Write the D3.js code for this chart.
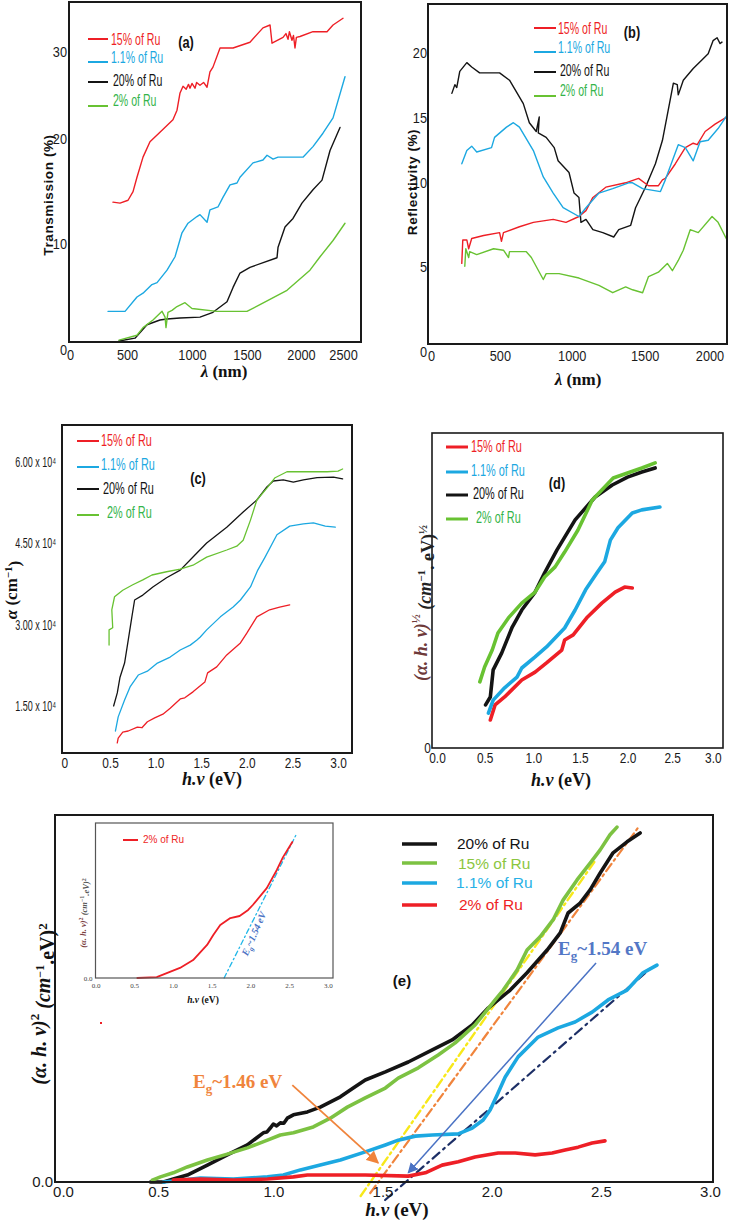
<!DOCTYPE html>
<html lang="en">
<head>
<meta charset="UTF-8"/>
<title>Optical properties of Ru doped films</title>
<script src="https://d3js.org/d3.v7.min.js"></script>
<style>
  body { margin: 0; background: #fff; }
  svg { display: block; }
  .narrow { font-family: "Liberation Sans", Arial, sans-serif; }
  .sans { font-family: "Liberation Sans", Arial, sans-serif; }
  .math { font-family: "Liberation Serif", "DejaVu Serif", serif; font-weight: bold; }
</style>
</head>
<body>
<svg id="fig" width="730" height="1221"></svg>
<script>

// ---------- data ----------
const legendNames = ['15% of Ru', '1.1% of Ru', '20% of Ru', '2% of Ru'];

// (a) transmission (%) vs wavelength (nm)
const transRu15 = [[379,14.6],[440,14.5],[509,14.8],[552,15.7],[586,17.2],[638,19.3],[698,20.9],[784,21.9],[896,23.2],[931,24.2],[957,26.0],[983,26.7],[1010,26.4],[1030,26.9],[1043,26.5],[1060,27.0],[1086,26.5],[1100,27.1],[1129,26.8],[1160,27.1],[1190,26.6],[1215,28.2],[1241,28.7],[1302,30.7],[1414,30.7],[1560,31.3],[1672,32.8],[1733,33.1],[1750,31.2],[1845,31.8],[1870,32.2],[1888,31.6],[1900,32.4],[1922,31.5],[1935,32.0],[1948,30.7],[1960,31.8],[1991,31.9],[2103,32.4],[2224,32.4],[2276,33.1],[2362,33.8]];
const transRu11 = [[336,3.2],[483,3.2],[586,4.7],[638,5.1],[715,6.0],[759,6.2],[845,7.5],[914,8.9],[974,11.4],[1026,12.4],[1103,13.1],[1129,13.3],[1190,12.5],[1215,13.8],[1284,14.1],[1327,15.1],[1388,16.4],[1448,16.6],[1474,17.2],[1586,18.7],[1672,19.0],[1707,19.5],[1759,19.1],[1802,19.3],[2017,19.3],[2103,20.4],[2189,21.8],[2276,23.4],[2379,27.7]];
const transRu20 = [[431,0.1],[569,0.4],[672,1.8],[784,2.3],[845,2.4],[957,2.5],[1129,2.6],[1241,3.1],[1362,4.2],[1414,5.7],[1474,7.2],[1560,7.8],[1793,8.8],[1802,9.9],[1862,12.0],[1931,12.9],[2008,14.5],[2103,15.9],[2181,16.9],[2250,20.0],[2336,22.4]];
const transRu2 = [[431,0.2],[586,0.7],[638,1.5],[724,2.3],[802,3.2],[828,2.6],[836,1.5],[853,3.1],[888,3.3],[931,3.7],[1000,4.1],[1060,3.5],[1276,3.2],[1534,3.2],[1646,3.9],[1879,5.4],[2077,7.5],[2164,8.9],[2276,10.6],[2379,12.4]];
const ticksA_x = [0, 500, 1000, 1500, 2000, 2500];
const ticksA_y = [0, 10, 20, 30];

// (b) reflectivity (%) vs wavelength (nm)
const reflRu15 = [[235,5.5],[242,7.1],[270,7.1],[283,6.5],[304,7.2],[387,7.4],[498,7.6],[511,7.0],[525,7.6],[636,8.0],[733,8.3],[871,8.5],[960,8.3],[1050,8.7],[1099,9.1],[1147,10.0],[1237,10.7],[1375,11.0],[1465,11.3],[1534,10.8],[1603,10.8],[1631,11.2],[1651,11.3],[1721,12.3],[1790,13.4],[1845,13.7],[1873,13.6],[1928,14.5],[1997,15.0],[2080,15.5]];
const reflRu11 = [[235,12.3],[270,13.2],[304,13.5],[339,13.1],[442,13.4],[463,14.1],[546,14.8],[594,15.1],[636,14.8],[733,13.2],[802,11.4],[871,10.3],[940,9.3],[1050,8.7],[1099,9.3],[1189,10.3],[1285,10.6],[1396,11.0],[1423,11.0],[1493,10.6],[1617,10.4],[1651,11.2],[1741,13.6],[1790,13.4],[1845,12.5],[1893,13.8],[1949,13.9],[2018,14.7],[2080,15.6]];
const reflRu20 = [[166,17.1],[187,17.7],[200,17.5],[221,18.6],[270,19.2],[304,18.9],[359,18.5],[498,18.5],[567,18.0],[663,16.4],[705,15.1],[753,14.5],[774,15.5],[767,14.4],[822,14.1],[878,13.4],[905,12.5],[981,11.7],[1016,10.3],[1050,10.0],[1064,8.3],[1099,8.5],[1147,7.8],[1216,7.6],[1292,7.3],[1327,7.8],[1410,8.1],[1444,9.3],[1513,10.7],[1582,12.3],[1631,13.9],[1707,17.8],[1734,17.7],[1741,17.0],[1776,18.0],[1845,18.8],[1907,19.4],[1949,19.8],[1983,20.7],[2011,20.9],[2032,20.5],[2045,20.6]];
const reflRu2 = [[256,5.3],[263,6.5],[283,5.9],[290,6.3],[339,6.1],[456,6.5],[525,6.4],[560,5.9],[567,6.3],[684,6.3],[719,5.9],[802,4.4],[822,4.8],[912,4.8],[1050,4.5],[1189,4.0],[1285,3.5],[1375,3.9],[1423,3.7],[1493,3.5],[1534,4.6],[1603,4.9],[1665,5.5],[1700,5.0],[1741,5.7],[1776,6.4],[1824,7.8],[1880,7.6],[1976,8.7],[2018,8.3],[2080,7.1]];
const ticksB_x = [0, 500, 1000, 1500, 2000];
const ticksB_y = [0, 5, 10, 15, 20];

// (c) absorption coefficient (x 10^4 cm^-1) vs photon energy (eV)
const alphaRu15 = [[0.58,0.82],[0.59,0.91],[0.64,1.02],[0.70,1.04],[0.80,1.11],[0.85,1.10],[0.91,1.21],[0.99,1.28],[1.08,1.35],[1.16,1.46],[1.27,1.63],[1.32,1.65],[1.41,1.76],[1.54,1.94],[1.57,2.11],[1.67,2.22],[1.78,2.44],[1.93,2.66],[2.00,2.84],[2.11,3.14],[2.25,3.27],[2.36,3.32],[2.47,3.36]];
const alphaRu11 = [[0.56,1.04],[0.59,1.30],[0.66,1.61],[0.72,1.85],[0.81,2.07],[0.91,2.14],[1.02,2.29],[1.16,2.40],[1.27,2.53],[1.38,2.62],[1.45,2.71],[1.49,2.77],[1.56,2.90],[1.71,3.14],[1.85,3.32],[1.93,3.45],[2.04,3.69],[2.12,4.00],[2.20,4.24],[2.33,4.65],[2.47,4.81],[2.62,4.85],[2.73,4.87],[2.86,4.81],[2.97,4.79]];
const alphaRu20 = [[0.54,1.50],[0.58,1.74],[0.61,2.03],[0.66,2.29],[0.70,2.71],[0.74,3.14],[0.77,3.45],[0.86,3.54],[0.97,3.69],[1.12,3.86],[1.27,4.00],[1.41,4.24],[1.56,4.50],[1.78,4.79],[1.96,5.07],[2.11,5.29],[2.22,5.53],[2.29,5.64],[2.40,5.66],[2.51,5.62],[2.62,5.66],[2.77,5.70],[2.95,5.71],[3.05,5.68]];
const alphaRu2 = [[0.49,2.62],[0.49,2.90],[0.53,2.94],[0.52,3.27],[0.55,3.51],[0.64,3.63],[0.75,3.73],[0.86,3.82],[0.96,3.91],[1.12,3.97],[1.27,4.02],[1.41,4.09],[1.56,4.24],[1.78,4.37],[1.89,4.44],[1.96,4.55],[2.04,4.92],[2.11,5.29],[2.22,5.51],[2.31,5.70],[2.44,5.81],[2.66,5.81],[2.88,5.81],[3.00,5.82],[3.05,5.86]];
const ticksC_x = [0, 0.5, 1.0, 1.5, 2.0, 2.5, 3.0];
const ticksC_y = [1.5, 3.0, 4.5, 6.0];

// (d) (alpha h nu)^1/2, arbitrary units
const sqrtRu15 = [[0.57,8.9],[0.62,13.7],[0.72,16.2],[0.90,21.6],[1.04,24.1],[1.16,27.0],[1.32,31.1],[1.35,34.3],[1.44,35.9],[1.59,41.6],[1.74,46.0],[1.88,49.5],[1.98,51.1],[2.06,50.8]];
const sqrtRu11 = [[0.55,11.1],[0.60,15.2],[0.72,19.1],[0.85,22.5],[0.90,25.4],[1.04,28.9],[1.16,32.1],[1.35,38.1],[1.46,43.8],[1.57,50.2],[1.69,55.6],[1.77,59.1],[1.83,66.0],[1.91,69.9],[2.06,74.6],[2.16,75.6],[2.35,76.5]];
const sqrtRu20 = [[0.52,13.7],[0.57,16.2],[0.60,24.8],[0.69,30.2],[0.80,38.4],[0.90,43.8],[1.04,49.5],[1.14,55.6],[1.27,62.9],[1.46,72.4],[1.67,79.7],[1.85,83.5],[2.01,86.0],[2.16,87.6],[2.30,88.9]];
const sqrtRu2 = [[0.46,21.0],[0.51,25.7],[0.59,31.1],[0.65,36.5],[0.76,41.3],[0.90,46.0],[1.04,49.5],[1.14,54.3],[1.25,57.5],[1.35,62.2],[1.49,69.2],[1.64,78.7],[1.74,81.9],[1.86,85.7],[2.01,87.3],[2.16,88.9],[2.30,90.5]];
const ticksD_x = [0, 0.5, 1.0, 1.5, 2.0, 2.5, 3.0];

// (e) (alpha h nu)^2, arbitrary units
const taucRu20 = [[0.437,0],[0.497,0],[0.542,0.8],[0.606,1.9],[0.698,4.6],[0.789,7.4],[0.881,10.1],[0.954,13.4],[0.970,13.6],[0.986,14.7],[1.000,15.8],[1.015,15.3],[1.032,16.1],[1.048,16.0],[1.064,17.4],[1.092,18.3],[1.156,19.1],[1.215,20.4],[1.307,23.2],[1.366,25.6],[1.421,27.8],[1.513,30.0],[1.618,32.7],[1.728,36.0],[1.819,38.7],[1.911,42.8],[1.984,47.4],[2.085,52.3],[2.162,57.0],[2.254,63.2],[2.314,67.9],[2.350,73.3],[2.405,76.0],[2.451,79.6],[2.497,84.2],[2.556,89.7],[2.620,92.7],[2.680,95.1]];
const taucRu15 = [[0.446,0.5],[0.483,1.4],[0.542,2.5],[0.606,4.1],[0.698,6.0],[0.789,7.6],[0.881,9.3],[0.973,11.4],[1.032,12.8],[1.092,13.4],[1.183,15.0],[1.261,17.4],[1.339,20.4],[1.421,22.9],[1.513,25.6],[1.572,28.3],[1.664,31.1],[1.755,34.6],[1.833,37.9],[1.924,42.8],[2.016,49.6],[2.053,52.3],[2.117,57.8],[2.162,63.2],[2.222,66.8],[2.281,71.4],[2.327,76.8],[2.391,82.3],[2.451,86.9],[2.497,90.5],[2.542,94.6],[2.574,96.7]];
const taucRu11 = [[0.497,0],[0.574,0.5],[0.666,1.1],[0.817,0.8],[0.973,1.4],[1.046,1.9],[1.124,3.3],[1.215,4.6],[1.307,6.0],[1.421,8.2],[1.513,10.1],[1.572,11.4],[1.650,12.5],[1.728,12.8],[1.847,13.1],[1.911,14.7],[1.961,16.9],[1.993,19.6],[2.025,23.7],[2.062,28.6],[2.121,34.1],[2.213,39.5],[2.304,42.0],[2.382,43.6],[2.460,46.3],[2.533,49.6],[2.620,52.3],[2.693,57.0],[2.757,59.1]];
const taucRu2 = [[0.542,0.5],[0.666,0.8],[0.817,0.5],[0.973,0.8],[1.092,1.4],[1.156,1.9],[1.275,1.9],[1.421,1.9],[1.618,1.6],[1.696,2.5],[1.773,4.6],[1.847,5.5],[1.924,6.8],[2.030,7.9],[2.108,7.9],[2.199,7.4],[2.277,7.9],[2.336,8.7],[2.396,9.5],[2.460,10.6],[2.519,11.2]];
const fitRu15 = [[1.40,-3.8],[2.47,87.2]];
const fitRu20 = [[1.444,-3.0],[2.67,96.5]];
const fitRu11 = [[1.512,-4.9],[2.735,58.6]];
const arrowEg154 = [[2.478,59.7],[1.618,2.5]];
const arrowEg146 = [[1.087,26.4],[1.480,5.2]];
const insetRu2 = [[0.54,0],[0.79,0.6],[0.96,3.9],[1.09,6.5],[1.26,11.6],[1.44,21.3],[1.52,27.7],[1.61,34.2],[1.74,38.7],[1.86,40.0],[1.97,43.9],[2.03,47.1],[2.21,58.0],[2.34,69.7],[2.42,78.0],[2.54,87.7]];
const insetFit = [[1.66,0],[2.60,93.5]];
const ticksE_x = [0, 0.5, 1.0, 1.5, 2.0, 2.5, 3.0];

// ---------- drawing ----------
const RED = '#ee1f26', BLUE = '#1ca8e1', BLACK = '#141414', GREEN = '#68c232';
const GREEN_E = '#7cc242';
const svg = d3.select('#fig');

function fmt1(d) { return d.toFixed(1); }

// the reference uses a condensed face; squeeze the glyphs horizontally
function squeeze(sel, k) {
  sel.each(function () {
    const w = this.getComputedTextLength();
    d3.select(this).attr('textLength', w * k).attr('lengthAdjust', 'spacingAndGlyphs');
  });
}

function panel(p) {
  const g = svg.append('g');
  const x = d3.scaleLinear().domain(p.xDomain).range([p.left, p.right]);
  const y = d3.scaleLinear().domain(p.yDomain).range([p.bottom, p.top]);

  const line = d3.line().x(d => x(d[0])).y(d => y(d[1]));
  p.series.forEach(s => {
    g.append('path')
      .datum(s.data)
      .attr('d', line)
      .attr('fill', 'none')
      .attr('stroke', s.color)
      .attr('stroke-width', s.width)
      .attr('stroke-linejoin', 'round')
      .attr('stroke-linecap', 'round')
      .attr('stroke-dasharray', s.dash || null);
  });

  g.append('rect')
    .attr('x', p.left).attr('y', p.top)
    .attr('width', p.right - p.left).attr('height', p.bottom - p.top)
    .attr('fill', 'none').attr('stroke', p.frameColor || '#1a1a1a').attr('stroke-width', p.frame);

  const xa = g.append('g')
    .attr('transform', `translate(0,${p.bottom})`)
    .call(d3.axisBottom(x).tickValues(p.xTicks).tickFormat(p.xFormat).tickSize(0).tickPadding(p.xPad));
  xa.select('.domain').remove();
  xa.attr('font-family', null).attr('font-size', null).attr('class', p.tickClass);
  xa.selectAll('text').attr('font-size', p.tickFont).attr('fill', '#1a1a1a')
    .attr('x', (d, i) => p.xShift ? p.xShift[i] : 0);
  if (p.squeeze) squeeze(xa.selectAll('text'), p.squeeze);

  let ya = null;
  if (p.yTicks) {
    ya = g.append('g')
      .attr('transform', `translate(${p.left},0)`)
      .call(d3.axisLeft(y).tickValues(p.yTicks).tickFormat(p.yFormat).tickSize(0).tickPadding(p.yPad));
    ya.select('.domain').remove();
    ya.attr('font-family', null).attr('font-size', null).attr('class', p.tickClass);
    ya.selectAll('text').attr('font-size', p.yTickFont || p.tickFont).attr('fill', '#1a1a1a')
      .attr('y', (d, i) => p.yShift ? p.yShift[i] : 0);
    if (p.squeeze) squeeze(ya.selectAll('text'), p.ySqueeze || p.squeeze);
  }
  return { g, x, y, ya };
}

function legend(items, o) {
  const g = svg.append('g').attr('class', o.cls);
  items.forEach(it => {
    g.append('line')
      .attr('x1', o.x1).attr('x2', o.x2).attr('y1', it.ly).attr('y2', it.ly)
      .attr('stroke', it.color).attr('stroke-width', o.lw);
    const t = g.append('text')
      .attr('x', it.tx).attr('y', it.ty)
      .attr('dominant-baseline', 'central')
      .attr('font-size', o.size)
      .attr('fill', it.textColor || it.color)
      .text(it.name);
    if (o.squeeze) squeeze(t, o.squeeze);
  });
}

function tag(txt, x, y, size) {
  const t = svg.append('text').attr('class', 'narrow')
    .attr('x', x).attr('y', y).attr('text-anchor', 'middle')
    .attr('font-size', size).attr('font-weight', 'bold').attr('fill', '#111')
    .text(txt);
  squeeze(t, 0.8);
}

function lambdaLabel(cx, y) {
  const t = svg.append('text').attr('class', 'math').attr('x', cx).attr('y', y)
    .attr('text-anchor', 'middle').attr('font-size', 17).attr('fill', '#111');
  t.append('tspan').attr('font-style', 'italic').text('λ');
  t.append('tspan').text(' (nm)');
}

function hvLabel(cx, y, size) {
  const t = svg.append('text').attr('class', 'math').attr('x', cx).attr('y', y)
    .attr('text-anchor', 'middle').attr('font-size', size).attr('fill', '#111');
  t.append('tspan').attr('font-style', 'italic').text('h.ν');
  t.append('tspan').text(' (eV)');
}

// ----- (a) -----
panel({
  left: 69, right: 361, top: 2, bottom: 342,
  xDomain: [0, 2517], yDomain: [0, 35.5],
  xTicks: ticksA_x, xFormat: d => d, xPad: 7, xShift: [1, 0, 7, 4, 0, -16],
  yTicks: ticksA_y, yFormat: d => d, yPad: 2, yShift: [8, -3, -12, -3],
  tickClass: 'narrow', tickFont: 15, squeeze: 0.85, frame: 2,
  series: [
    { data: transRu15, color: RED, width: 1.4 },
    { data: transRu11, color: BLUE, width: 1.4 },
    { data: transRu20, color: BLACK, width: 1.4 },
    { data: transRu2, color: GREEN, width: 1.4 }
  ]
});
legend([
  { name: legendNames[0], color: RED, ly: 39, ty: 39, tx: 111 },
  { name: legendNames[1], color: BLUE, ly: 62, ty: 57, tx: 111 },
  { name: legendNames[2], color: BLACK, ly: 82, ty: 80, tx: 113 },
  { name: legendNames[3], color: GREEN, textColor: '#34b44a', ly: 106, ty: 100, tx: 113 }
], { cls: 'narrow', x1: 88, x2: 108, lw: 2, size: 16, squeeze: 0.66 });
tag('(a)', 186, 48, 16);
svg.append('text').attr('class', 'sans')
  .attr('transform', 'translate(53,195) rotate(-90)')
  .attr('text-anchor', 'middle').attr('font-size', 13.5).attr('font-weight', 'bold')
  .attr('letter-spacing', 0.6).attr('fill', '#111')
  .text('Transmission (%)');
lambdaLabel(224, 377);

// ----- (b) -----
panel({
  left: 428, right: 727, top: 4, bottom: 344,
  xDomain: [0, 2080], yDomain: [0, 23.2],
  xTicks: ticksB_x, xFormat: d => d, xPad: 6, xShift: [3, 0, 0, 1, -6],
  yTicks: ticksB_y, yFormat: d => d, yPad: 1, yShift: [8, -4, -15, -6, 2],
  tickClass: 'narrow', tickFont: 15, squeeze: 0.85, frame: 2,
  series: [
    { data: reflRu20, color: BLACK, width: 1.4 },
    { data: reflRu15, color: RED, width: 1.4 },
    { data: reflRu11, color: BLUE, width: 1.4 },
    { data: reflRu2, color: GREEN, width: 1.4 }
  ]
});
legend([
  { name: legendNames[0], color: RED, ly: 28, ty: 28, tx: 558 },
  { name: legendNames[1], color: BLUE, ly: 52, ty: 47, tx: 558 },
  { name: legendNames[2], color: BLACK, ly: 72, ty: 70, tx: 560 },
  { name: legendNames[3], color: GREEN, textColor: '#34b44a', ly: 96, ty: 90, tx: 560 }
], { cls: 'narrow', x1: 534, x2: 556, lw: 2, size: 16, squeeze: 0.66 });
tag('(b)', 632, 38, 16);
svg.append('text').attr('class', 'sans')
  .attr('transform', 'translate(417,182) rotate(-90)')
  .attr('text-anchor', 'middle').attr('font-size', 13.5).attr('font-weight', 'bold')
  .attr('letter-spacing', 0.6).attr('fill', '#111')
  .text('Reflectivity (%)');
lambdaLabel(578, 385);

// ----- (c) -----
panel({
  left: 62, right: 352, top: 425, bottom: 753,
  xDomain: [-0.026, 3.153], yDomain: [0.635, 6.67],
  xTicks: ticksC_x, xFormat: d => d === 0 ? '0' : fmt1(d), xPad: 5,
  yTicks: ticksC_y, yFormat: d => d.toFixed(2) + ' x 10\u2074', yPad: 6,
  tickClass: 'narrow', tickFont: 14, yTickFont: 14.5, squeeze: 0.85, ySqueeze: 0.62, frame: 2,
  series: [
    { data: alphaRu15, color: RED, width: 1.3 },
    { data: alphaRu11, color: BLUE, width: 1.3 },
    { data: alphaRu20, color: BLACK, width: 1.3 },
    { data: alphaRu2, color: GREEN, width: 1.3 }
  ]
});
legend([
  { name: legendNames[0], color: RED, ly: 441, ty: 440, tx: 101 },
  { name: legendNames[1], color: BLUE, ly: 467, ty: 464, tx: 101 },
  { name: legendNames[2], color: BLACK, ly: 489, ty: 488, tx: 103 },
  { name: legendNames[3], color: GREEN, textColor: '#34b44a', ly: 515, ty: 512, tx: 107 }
], { cls: 'narrow', x1: 77, x2: 99, lw: 2, size: 16, squeeze: 0.68 });
tag('(c)', 198, 484, 16);
{
  const t = svg.append('text').attr('class', 'math')
    .attr('transform', 'translate(17,590) rotate(-90)')
    .attr('text-anchor', 'middle').attr('font-size', 17).attr('fill', '#111');
  t.append('tspan').attr('font-style', 'italic').text('α');
  t.append('tspan').text('   (cm');
  t.append('tspan').attr('dy', '-0.5em').attr('font-size', 11).text('−1');
  t.append('tspan').attr('dy', '0.5em').text(')');
}
hvLabel(212, 785, 18);

// ----- (d) -----
panel({
  left: 432, right: 723, top: 433, bottom: 748,
  xDomain: [-0.042, 3.012], yDomain: [0, 100],
  xTicks: ticksD_x, xFormat: fmt1, xPad: 5, xShift: [1, 1, 2, 1, 1, -2, -9],
  yTicks: [0], yFormat: d => d, yPad: 1,
  tickClass: 'narrow', tickFont: 14, squeeze: 0.85, frame: 1.6,
  series: [
    { data: sqrtRu15, color: RED, width: 3.6 },
    { data: sqrtRu11, color: BLUE, width: 3.6 },
    { data: sqrtRu20, color: BLACK, width: 3.6 },
    { data: sqrtRu2, color: GREEN, width: 3.6 }
  ]
});
legend([
  { name: legendNames[0], color: RED, ly: 447, ty: 446, tx: 471 },
  { name: legendNames[1], color: BLUE, ly: 472, ty: 470, tx: 471 },
  { name: legendNames[2], color: BLACK, ly: 495, ty: 493, tx: 473 },
  { name: legendNames[3], color: GREEN, textColor: '#34b44a', ly: 519, ty: 517, tx: 476 }
], { cls: 'narrow', x1: 446, x2: 468, lw: 3, size: 16, squeeze: 0.68 });
tag('(d)', 557, 489, 16);
{
  const t = svg.append('text').attr('class', 'math')
    .attr('transform', 'translate(427,603) rotate(-90)')
    .attr('text-anchor', 'middle').attr('font-size', 18);
  t.append('tspan').attr('fill', '#6e3a3a').attr('font-style', 'italic').text('(α. h. ν)');
  t.append('tspan').attr('fill', '#6e3a3a').attr('dy', '-0.6em').attr('font-size', 12).text('½');
  t.append('tspan').attr('fill', '#222').attr('dy', '0.6em').attr('font-style', 'italic').text(' (cm');
  t.append('tspan').attr('fill', '#222').attr('dy', '-0.5em').attr('font-size', 11).text('−1');
  t.append('tspan').attr('fill', '#222').attr('dy', '0.5em').text('. eV)');
  t.append('tspan').attr('fill', '#222').attr('dy', '-0.6em').attr('font-size', 12).text('½');
}
hvLabel(561, 786, 18);

// ----- (e) -----
const defs = svg.append('defs');
[['arrBlue', '#4a72c4'], ['arrOrange', '#f0843c']].forEach(([id, c]) => {
  defs.append('marker').attr('id', id)
    .attr('viewBox', '0 0 10 10').attr('refX', 9).attr('refY', 5)
    .attr('markerWidth', 7).attr('markerHeight', 7).attr('orient', 'auto-start-reverse')
    .append('path').attr('d', 'M0,0L10,5L0,10z').attr('fill', c);
});

const pe = panel({
  left: 55, right: 713, top: 815, bottom: 1182,
  xDomain: [0, 3.0137], yDomain: [0, 100],
  xTicks: ticksE_x, xFormat: fmt1, xPad: 4, xShift: [8, -6, 0, 0, 0, 0, 0],
  yTicks: [0], yFormat: fmt1, yPad: 2,
  tickClass: 'sans', tickFont: 15, frame: 2,
  series: [
    { data: fitRu15, color: '#f7e81a', width: 2.4, dash: '9,4,2,4' },
    { data: fitRu20, color: '#f0843c', width: 2.2, dash: '9,4,2,4' },
    { data: fitRu11, color: '#1d2f66', width: 2.2, dash: '9,5,2,5' },
    { data: taucRu20, color: BLACK, width: 3.6 },
    { data: taucRu15, color: GREEN_E, width: 3.6 },
    { data: taucRu11, color: BLUE, width: 3.6 },
    { data: taucRu2, color: RED, width: 3.6 }
  ]
});
const arrowLine = d3.line().x(d => pe.x(d[0])).y(d => pe.y(d[1]));
pe.g.append('path').datum(arrowEg154).attr('d', arrowLine)
  .attr('stroke', '#4a72c4').attr('stroke-width', 1.5).attr('fill', 'none').attr('marker-end', 'url(#arrBlue)');
pe.g.append('path').datum(arrowEg146).attr('d', arrowLine)
  .attr('stroke', '#f0843c').attr('stroke-width', 1.8).attr('fill', 'none').attr('marker-end', 'url(#arrOrange)');

function egText(x, y, val, color) {
  const t = svg.append('text').attr('class', 'math').attr('x', x).attr('y', y)
    .attr('font-size', 19).attr('fill', color);
  t.append('tspan').text('E');
  t.append('tspan').attr('dy', 5).attr('font-size', 13).text('g');
  t.append('tspan').attr('dy', -5).text('~' + val + ' eV');
}
egText(558, 955, '1.54', '#5377c6');
egText(193, 1088, '1.46', '#f0843c');

legend([
  { name: '20% of Ru', color: BLACK, ly: 844, ty: 843, tx: 457 },
  { name: '15% of Ru', color: GREEN_E, textColor: '#8cc63f', ly: 863, ty: 863, tx: 458 },
  { name: '1.1% of Ru', color: BLUE, textColor: '#27b1e6', ly: 883, ty: 882, tx: 456 },
  { name: '2% of Ru', color: RED, ly: 905, ty: 904, tx: 459 }
], { cls: 'sans', x1: 402, x2: 437, lw: 3.5, size: 15.5 });
svg.append('text').attr('class', 'sans').attr('x', 402).attr('y', 986)
  .attr('text-anchor', 'middle').attr('font-size', 15).attr('font-weight', 'bold').attr('fill', '#111')
  .text('(e)');
svg.append('rect').attr('x', 100).attr('y', 1022).attr('width', 2).attr('height', 2).attr('fill', RED);

{
  const t = svg.append('text').attr('class', 'math')
    .attr('transform', 'translate(46,1004) rotate(-90)')
    .attr('text-anchor', 'middle').attr('font-size', 20).attr('fill', '#111');
  t.append('tspan').attr('font-style', 'italic').text('(α. h. ν)');
  t.append('tspan').attr('dy', '-0.55em').attr('font-size', 13).text('2');
  t.append('tspan').attr('dy', '0.55em').attr('font-style', 'italic').text(' (cm');
  t.append('tspan').attr('dy', '-0.5em').attr('font-size', 12).text('−1');
  t.append('tspan').attr('dy', '0.5em').text('.eV)');
  t.append('tspan').attr('dy', '-0.55em').attr('font-size', 13).text('2');
}
hvLabel(397, 1216, 19);

// inset of (e)
const pi = panel({
  left: 95.5, right: 333, top: 823, bottom: 978,
  xDomain: [0, 3.065], yDomain: [0, 100],
  xTicks: ticksE_x, xFormat: fmt1, xPad: 5,
  yTicks: [0], yFormat: fmt1, yPad: 3,
  tickClass: 'math', tickFont: 7, frame: 1.2, frameColor: '#555',
  series: [
    { data: insetFit, color: '#1fb6e8', width: 1.3, dash: '5,3,1.5,3' },
    { data: insetRu2, color: RED, width: 1.8 }
  ]
});
pi.g.selectAll('.tick text').attr('font-weight', 'normal').attr('fill', '#444');
legend([
  { name: '2% of Ru', color: RED, ly: 840, ty: 839, tx: 143 }
], { cls: 'sans', x1: 123, x2: 138, lw: 2, size: 10 });
{
  const t = svg.append('text').attr('class', 'math')
    .attr('transform', 'translate(257,935) rotate(-66)')
    .attr('text-anchor', 'middle').attr('font-size', 10).attr('font-style', 'italic').attr('fill', '#4a72c4');
  t.append('tspan').text('E');
  t.append('tspan').attr('dy', 2.5).attr('font-size', 7).text('g');
  t.append('tspan').attr('dy', -2.5).text('~1.54 eV');
}
{
  const t = svg.append('text').attr('class', 'math')
    .attr('transform', 'translate(86,913) rotate(-90)')
    .attr('text-anchor', 'middle').attr('font-size', 8.5);
  t.append('tspan').attr('fill', '#7a4040').attr('font-style', 'italic').text('(α. h. ν)');
  t.append('tspan').attr('fill', '#7a4040').attr('dy', '-0.5em').attr('font-size', 6).text('2');
  t.append('tspan').attr('fill', '#555').attr('dy', '0.5em').attr('font-style', 'italic').text(' (cm');
  t.append('tspan').attr('fill', '#555').attr('dy', '-0.5em').attr('font-size', 6).text('−1');
  t.append('tspan').attr('fill', '#555').attr('dy', '0.5em').attr('font-style', 'italic').text('.eV)');
  t.append('tspan').attr('fill', '#555').attr('dy', '-0.5em').attr('font-size', 6).text('2');
}
hvLabel(203, 1003, 9.5);

</script>
</body>
</html>
